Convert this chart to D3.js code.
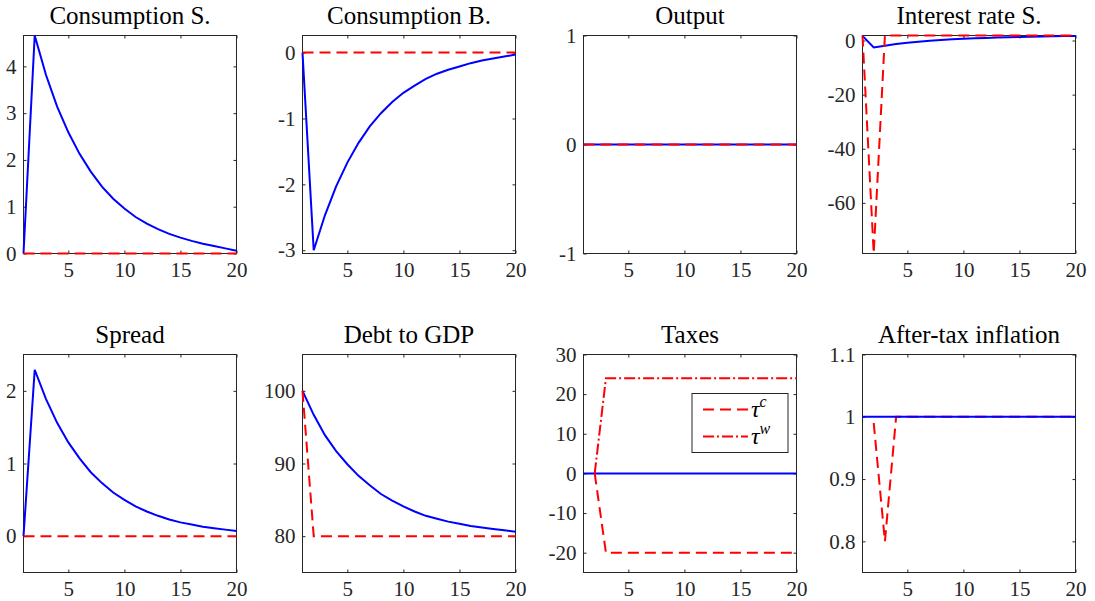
<!DOCTYPE html>
<html>
<head>
<meta charset="utf-8">
<script src="https://cdn.jsdelivr.net/npm/d3@7"></script>
<style>
  body { margin: 0; background: #fff; }
  text { font-family: "Liberation Serif", "DejaVu Serif", serif; }
</style>
</head>
<body>
<svg id="chart" width="1095" height="601"></svg>
<script>
// periods on the x axis
const periods = [1, 2, 3, 4, 5, 6, 7, 8, 9, 10, 11, 12, 13, 14, 15, 16, 17, 18, 19, 20]
const xTicks = [5, 10, 15, 20]

// blue = solid line, red = dashed line
const consSBlue = [0, 4.66, 3.82, 3.14, 2.59, 2.13, 1.75, 1.43, 1.17, 0.96, 0.78, 0.64, 0.52, 0.42, 0.34, 0.27, 0.21, 0.16, 0.11, 0.06]
const consSRed = [0, 0, 0, 0, 0, 0, 0, 0, 0, 0, 0, 0, 0, 0, 0, 0, 0, 0, 0, 0]

const consBBlue = [0, -3.00, -2.47, -2.03, -1.67, -1.37, -1.12, -0.92, -0.75, -0.61, -0.50, -0.40, -0.32, -0.26, -0.21, -0.16, -0.12, -0.09, -0.06, -0.03]
const consBRed = [0, 0, 0, 0, 0, 0, 0, 0, 0, 0, 0, 0, 0, 0, 0, 0, 0, 0, 0, 0]

const outputBlue = [0, 0, 0, 0, 0, 0, 0, 0, 0, 0, 0, 0, 0, 0, 0, 0, 0, 0, 0, 0]
const outputRed = [0, 0, 0, 0, 0, 0, 0, 0, 0, 0, 0, 0, 0, 0, 0, 0, 0, 0, 0, 0]

const rateBlue = [1.7, -2.6, -1.9, -1.3, -0.85, -0.45, -0.1, 0.2, 0.45, 0.65, 0.82, 0.97, 1.1, 1.2, 1.3, 1.4, 1.5, 1.57, 1.63, 1.7]
const rateRed = [1.85, -78.7, 1.85, 1.85, 1.85, 1.85, 1.85, 1.85, 1.85, 1.85, 1.85, 1.85, 1.85, 1.85, 1.85, 1.85, 1.85, 1.85, 1.85, 1.85]

const spreadBlue = [0, 2.29, 1.89, 1.56, 1.29, 1.07, 0.88, 0.73, 0.60, 0.50, 0.41, 0.34, 0.28, 0.23, 0.19, 0.16, 0.13, 0.11, 0.09, 0.07]
const spreadRed = [0, 0, 0, 0, 0, 0, 0, 0, 0, 0, 0, 0, 0, 0, 0, 0, 0, 0, 0, 0]

const debtBlue = [100, 96.7, 93.9, 91.7, 89.9, 88.3, 87.0, 85.8, 84.9, 84.1, 83.4, 82.8, 82.4, 82.0, 81.7, 81.4, 81.2, 81.0, 80.8, 80.6]
const debtRed = [100, 80, 80, 80, 80, 80, 80, 80, 80, 80, 80, 80, 80, 80, 80, 80, 80, 80, 80, 80]

const taxBlue = [0, 0, 0, 0, 0, 0, 0, 0, 0, 0, 0, 0, 0, 0, 0, 0, 0, 0, 0, 0]
const tauC = [null, 0, -20, -20, -20, -20, -20, -20, -20, -20, -20, -20, -20, -20, -20, -20, -20, -20, -20, -20]
const tauW = [null, 0, 24, 24, 24, 24, 24, 24, 24, 24, 24, 24, 24, 24, 24, 24, 24, 24, 24, 24]

const inflBlue = [1, 1, 1, 1, 1, 1, 1, 1, 1, 1, 1, 1, 1, 1, 1, 1, 1, 1, 1, 1]
const inflRed = [null, 0.99, 0.80, 1, 1, 1, 1, 1, 1, 1, 1, 1, 1, 1, 1, 1, 1, 1, 1, 1]

const titles = ["Consumption S.", "Consumption B.", "Output", "Interest rate S.",
  "Spread", "Debt to GDP", "Taxes", "After-tax inflation"]
const yLimits = [[0, 4.66], [-3.05, 0.26], [-1, 1], [-78.7, 1.85],
  [-0.5, 2.5], [75, 105], [-25, 30], [0.75, 1.1]]
const yTicks = [[0, 1, 2, 3, 4], [-3, -2, -1, 0], [-1, 0, 1], [-60, -40, -20, 0],
  [0, 1, 2], [80, 90, 100], [-20, -10, 0, 10, 20, 30], [0.8, 0.9, 1, 1.1]]

// series per panel: each entry {values, style}
const panelSeries = [
  [{ values: consSBlue, style: "solid" }, { values: consSRed, style: "dash" }],
  [{ values: consBBlue, style: "solid" }, { values: consBRed, style: "dash" }],
  [{ values: outputBlue, style: "solid" }, { values: outputRed, style: "dash" }],
  [{ values: rateBlue, style: "solid" }, { values: rateRed, style: "dash" }],
  [{ values: spreadBlue, style: "solid" }, { values: spreadRed, style: "dash" }],
  [{ values: debtBlue, style: "solid" }, { values: debtRed, style: "dash" }],
  [{ values: taxBlue, style: "solid" }, { values: tauC, style: "dash" }, { values: tauW, style: "dashdot" }],
  [{ values: inflRed, style: "dash" }, { values: inflBlue, style: "solid" }]
]

const styles = {
  solid: { color: "#0000ff", dash: null },
  dash: { color: "#ff0000", dash: "11,6" },
  dashdot: { color: "#ff0000", dash: "11,3,2,3" }
}

// layout of the 2x4 grid
const colLefts = [23.5, 302.5, 583.5, 862.5]
const rowTops = [35.5, 354.5]
const panelW = 213
const panelH = 218
const axisColor = "#262626"
const serif = "'Liberation Serif', 'DejaVu Serif', serif"

const svg = d3.select("#chart")

titles.forEach((title, i) => {
  const left = colLefts[i % 4]
  const top = rowTops[Math.floor(i / 4)]
  const g = svg.append("g").attr("transform", `translate(${left},${top})`)

  const x = d3.scaleLinear([1, 20], [0, panelW])
  const y = d3.scaleLinear(yLimits[i], [panelH, 0])

  // box
  g.append("rect")
    .attr("width", panelW)
    .attr("height", panelH)
    .attr("fill", "#fff")
    .attr("stroke", axisColor)
    .attr("stroke-width", 1)

  const plain = (d) => String(d)

  // axes with inward ticks, mirrored on top and right
  const bottom = g.append("g").attr("transform", `translate(0,${panelH})`)
    .call(d3.axisBottom(x).tickValues(xTicks).tickFormat(plain).tickSizeInner(-3).tickSizeOuter(0).tickPadding(9))
  const leftAx = g.append("g")
    .call(d3.axisLeft(y).tickValues(yTicks[i]).tickFormat(plain).tickSizeInner(-3).tickSizeOuter(0).tickPadding(7))
  const topAx = g.append("g")
    .call(d3.axisTop(x).tickValues(xTicks).tickSizeInner(-3).tickSizeOuter(0).tickFormat(""))
  const rightAx = g.append("g").attr("transform", `translate(${panelW},0)`)
    .call(d3.axisRight(y).tickValues(yTicks[i]).tickSizeInner(-3).tickSizeOuter(0).tickFormat(""))

  ;[bottom, leftAx, topAx, rightAx].forEach((ax) => {
    ax.attr("font-family", serif).attr("font-size", 21)
    ax.select(".domain").remove()
    ax.selectAll(".tick line").attr("stroke", axisColor)
    ax.selectAll(".tick text").attr("fill", axisColor).style("font-family", serif)
  })

  // title
  g.append("text")
    .attr("x", panelW / 2)
    .attr("y", -12)
    .attr("text-anchor", "middle")
    .attr("font-size", 25)
    .attr("fill", "#000")
    .style("font-family", serif)
    .text(title)

  // lines
  const line = d3.line()
    .defined(d => d.v !== null)
    .x(d => x(d.t))
    .y(d => y(d.v))

  panelSeries[i].forEach((s) => {
    const st = styles[s.style]
    g.append("path")
      .datum(periods.map((t, k) => ({ t: t, v: s.values[k] })))
      .attr("d", line)
      .attr("fill", "none")
      .attr("stroke", st.color)
      .attr("stroke-width", 2)
      .attr("stroke-dasharray", st.dash)
  })

  // legend for the taxes panel
  if (title === "Taxes") {
    const lg = g.append("g").attr("transform", "translate(108.5,39)")
    lg.append("rect")
      .attr("width", 96)
      .attr("height", 59)
      .attr("fill", "#fff")
      .attr("stroke", axisColor)
      .attr("stroke-width", 1)
    const entries = [{ style: "dash", sup: "c" }, { style: "dashdot", sup: "w" }]
    entries.forEach((e, k) => {
      const cy = 16 + k * 27
      lg.append("line")
        .attr("x1", 11).attr("x2", 56)
        .attr("y1", cy).attr("y2", cy)
        .attr("stroke", styles[e.style].color)
        .attr("stroke-width", 2)
        .attr("stroke-dasharray", styles[e.style].dash)
      const t = lg.append("text")
        .attr("x", 59)
        .attr("y", cy + 7)
        .attr("font-size", 24)
        .attr("font-style", "italic")
        .attr("fill", "#000")
        .style("font-family", serif)
      t.append("tspan").text("τ")
      t.append("tspan").attr("dy", -10).attr("font-size", 16).text(e.sup)
    })
  }
})
</script>
</body>
</html>
